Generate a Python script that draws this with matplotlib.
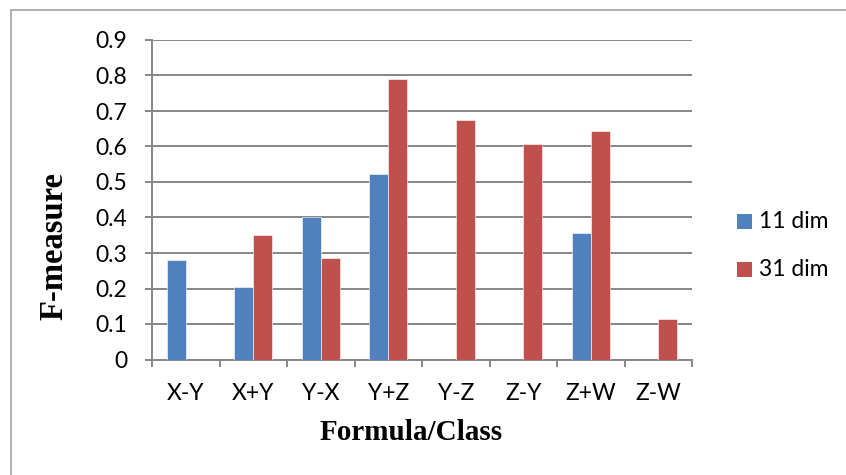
import matplotlib
matplotlib.use("Agg")
import matplotlib.pyplot as plt
from matplotlib.patches import Rectangle
import numpy as np

categories = ["X-Y", "X+Y", "Y-X", "Y+Z", "Y-Z", "Z-Y", "Z+W", "Z-W"]
dim11 = [0.280, 0.205, 0.400, 0.522, None, None, 0.356, None]
dim31 = [None, 0.352, 0.285, 0.790, 0.675, 0.608, 0.643, 0.114]
series_names = ["11 dim", "31 dim"]
yticks = [0, 0.1, 0.2, 0.3, 0.4, 0.5, 0.6, 0.7, 0.8, 0.9]
ytick_labels = ["0", "0.1", "0.2", "0.3", "0.4", "0.5", "0.6", "0.7", "0.8", "0.9"]

BLUE = "#4F81BD"
RED = "#C0504D"
GRID = "#868686"

W, H = 846, 475
fig = plt.figure(figsize=(W / 100, H / 100), dpi=100)

# outer chart border (top and left edges inside the canvas)
fig.patches.append(Rectangle((11 / W, -0.1), 1.2, (H - 10) / H + 0.1,
                             transform=fig.transFigure, fill=False,
                             edgecolor="#9a9a9a", linewidth=1.1))

ax = fig.add_axes([152 / W, (H - 359.5) / H, (692 - 152) / W, (359.5 - 40) / H])

x = np.arange(len(categories))
w = 0.282


def draw_series(values, offset, color):
    idx = [i for i, v in enumerate(values) if v is not None]
    vals = [values[i] for i in idx]
    return ax.bar(x[idx] + offset, vals, width=w, color=color,
                  edgecolor="#ffffff", linewidth=0.4, zorder=3)


draw_series(dim11, -w / 2, BLUE)
draw_series(dim31, w / 2, RED)

ax.set_xlim(-0.5, len(categories) - 0.5)
ax.set_ylim(0, 0.9)
ax.set_yticks(yticks)
ax.set_yticklabels(ytick_labels)
ax.yaxis.grid(True, color=GRID, linewidth=1.4, zorder=0)
ax.set_axisbelow(True)

ax.set_xticks(x)
ax.set_xticklabels(categories)
ax.set_xticks(np.arange(-0.5, len(categories)), minor=True)

tick_font = dict(family=["Lato", "DejaVu Sans"], size=16.5)
for lab in ax.get_xticklabels() + ax.get_yticklabels():
    lab.set_fontfamily(tick_font["family"])
    lab.set_fontsize(tick_font["size"])

ax.tick_params(axis="x", which="major", length=0, pad=17)
ax.tick_params(axis="x", which="minor", length=5, width=1.4, color=GRID, direction="out")
ax.tick_params(axis="y", which="major", length=5, width=1.4, color=GRID, direction="out", pad=13)

for side in ["top", "right"]:
    ax.spines[side].set_visible(False)
for side in ["left", "bottom"]:
    ax.spines[side].set_color(GRID)
    ax.spines[side].set_linewidth(1.4)

fig.text(54 / W, 1 - 246 / H, "F-measure", rotation=90, ha="center", va="center",
         family=["Liberation Serif"], weight="bold", fontsize=23.5)
fig.text(411 / W, 1 - 433 / H, "Formula/Class", ha="center", va="center",
         family=["Liberation Serif"], weight="bold", fontsize=21)

# legend entries
for (name, color, yc) in [(series_names[0], BLUE, 221.5), (series_names[1], RED, 269.5)]:
    fig.patches.append(Rectangle((737 / W, 1 - (yc + 7.5) / H), 15 / W, 15 / H,
                                 transform=fig.transFigure, facecolor=color,
                                 edgecolor="none"))
    fig.text(759 / W, 1 - yc / H, name, ha="left", va="center",
             family=["Lato", "DejaVu Sans"], fontsize=16.5)

fig.savefig("out.png", dpi=100)
